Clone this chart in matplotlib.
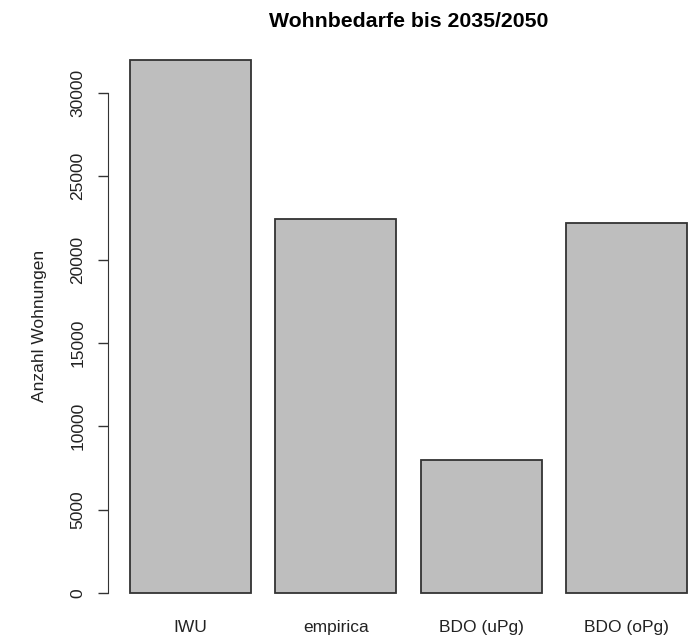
import matplotlib
matplotlib.use("Agg")
import matplotlib.pyplot as plt

# Wohnbedarfe nach Quelle
labels = ["IWU", "empirica", "BDO (uPg)", "BDO (oPg)"]
werte = [32000, 22450, 8000, 22200]
y_ticks = [0, 5000, 10000, 15000, 20000, 25000, 30000]

plt.rcParams["font.family"] = ["Liberation Sans", "DejaVu Sans"]

fig = plt.figure(figsize=(6.93, 6.43), dpi=100)
# Plotbereich wie bei R-barplot (rechts etwas abgeschnitten)
ax = fig.add_axes([0.1554, 0.0446, 0.868, 0.896])

width = 1.0
space = 0.2
lefts = [space + i * (width + space) for i in range(len(werte))]
centers = [l + width / 2 for l in lefts]

ax.bar(centers, werte, width=width, color="#bebebe", edgecolor="#333333", linewidth=1.3)

x0, x1 = lefts[0], lefts[-1] + width
pad = 0.04 * (x1 - x0)
ax.set_xlim(x0 - pad, x1 + pad)
ymax = max(werte)
ax.set_ylim(-0.04 * ymax, ymax * 1.04)

for s in ["top", "right", "bottom"]:
    ax.spines[s].set_visible(False)
ax.spines["left"].set_bounds(y_ticks[0], y_ticks[-1])
ax.spines["left"].set_color("#333333")

ax.set_yticks(y_ticks)
ax.set_yticklabels([str(t) for t in y_ticks], rotation=90, va="center", fontsize=12.5, color="#222222")
ax.tick_params(axis="y", length=7, width=1, color="#333333", pad=9)

ax.set_xticks(centers)
ax.set_xticklabels(labels, fontsize=12.5, color="#222222")
ax.tick_params(axis="x", length=0, pad=4)

ax.set_ylabel("Anzahl Wohnungen", fontsize=12.5, color="#222222", labelpad=17)
ax.set_title("Wohnbedarfe bis 2035/2050", fontsize=15.3, fontweight="bold", pad=8)

fig.savefig("out.png", dpi=100)
